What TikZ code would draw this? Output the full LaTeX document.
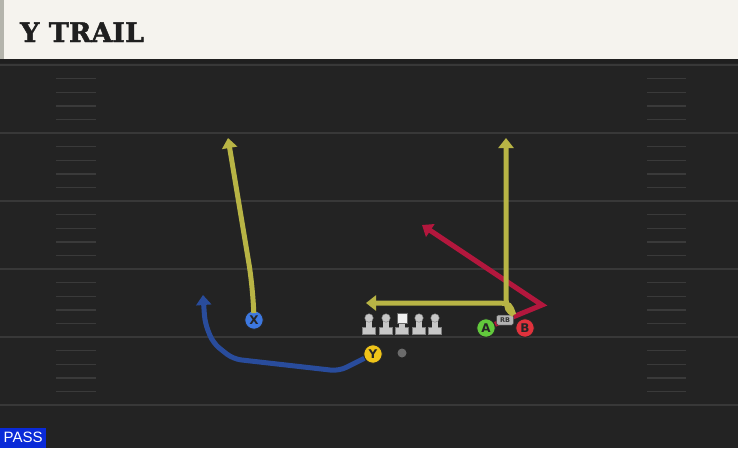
\documentclass[tikz,border=0pt]{standalone}
\usepackage{fontspec}
\setmainfont{DejaVu Serif}
\newfontfamily\titlefont[BoldFeatures={FakeBold=1.6}]{DejaVu Serif}
\newfontfamily\playerfont{DejaVu Sans}
\newfontfamily\tagfont{Liberation Sans}
\usetikzlibrary{arrows.meta}

\definecolor{headerbg}{HTML}{F5F3EE}
\definecolor{headeredge}{HTML}{B4B4AC}
\definecolor{fieldbg}{HTML}{232323}
\definecolor{fieldline}{HTML}{383838}
\definecolor{hashline}{HTML}{3A3A3A}
\definecolor{routeyellow}{HTML}{B8B445}
\definecolor{routered}{HTML}{B3173D}
\definecolor{routeblue}{HTML}{294C9C}
\definecolor{xblue}{HTML}{3D78E0}
\definecolor{yyellow}{HTML}{F0C419}
\definecolor{agreen}{HTML}{62C93C}
\definecolor{bred}{HTML}{E0323C}
\definecolor{passblue}{HTML}{0A2AD8}

\begin{document}
\begin{tikzpicture}[x=1pt, y=-1pt]

% Styles
\tikzstyle{player} = [draw=black!85, line width=0.9pt, circle, inner sep=0pt, minimum size=18.5pt, font=\playerfont\bfseries\fontsize{12}{12}\selectfont, text=black!85]
\tikzstyle{route}  = [line width=5pt, -{Triangle[length=10pt,width=15pt]}]
\tikzstyle{lbase}  = [fill=black!22, draw=black!50, line width=0.4pt, inner sep=0pt, minimum width=13pt, minimum height=7pt]
\tikzstyle{lneck}  = [fill=black!22, inner sep=0pt, minimum width=6pt, minimum height=9pt]
\tikzstyle{lhead}  = [fill=black!22, draw=black!50, line width=0.4pt, circle, inner sep=0pt, minimum size=8.5pt]
\tikzstyle{chead}  = [fill=white!94!black, draw=black!60, line width=0.5pt, inner sep=0pt, minimum size=10pt]

\useasboundingbox (0,0) rectangle (738,448);

% Field
\fill[fieldbg] (0,59) rectangle (738,448);
\fill[black!88] (0,59) rectangle (738,63);
\foreach \yl in {65,133,201,269,337,405}
  \draw[fieldline, line width=2pt] (0,\yl) -- (738,\yl);
\foreach \yl in {65,133,201,269,337}
  \foreach \k in {1,...,4} {
    \draw[hashline, line width=1.4pt] (56,\yl+13.6*\k) -- (96,\yl+13.6*\k);
    \draw[hashline, line width=1.4pt] (647,\yl+13.6*\k) -- (686,\yl+13.6*\k);
  }

% Header
\fill[headerbg] (0,0) rectangle (738,59);
\fill[headeredge] (0,0) rectangle (4,59);
\node[anchor=base west, inner sep=0pt, font=\titlefont\bfseries\fontsize{27}{27}\selectfont, text=black!88] (title) at (20,42) {Y TRAIL};

% Nodes
\node[player, fill=xblue] (x) at (254,320) {X};
\node[player, fill=yyellow] (y) at (373,354) {Y};
\node[player, fill=agreen] (a) at (486,328) {A};
\node[circle, fill=black!58, inner sep=0pt, minimum size=9pt] (ball) at (402,353) {};

% Line
\foreach \name/\px in {lt/369,lg/386,rg/419,rt/435} {
  \node[lbase] (\name) at (\px,330.5) {};
  \node[lneck] (\name-n) at (\px,323) {};
  \node[lhead] (\name-h) at (\px,318) {};
}
\node[lbase] (c) at (402,330.5) {};
\node[lneck] (c-n) at (402,324) {};
\node[chead] (c-h) at (402,318) {};

% Route ends
\coordinate (xend) at (228,138);
\coordinate (yend) at (203,295);
\coordinate (vend) at (506,138);
\coordinate (hend) at (366,303);
\coordinate (redend) at (422,225);

% Routes
\draw[route, routeyellow, rounded corners=25pt] (x) -- (253,288) -- (xend);
\draw[route, routeblue, rounded corners=8pt] (y) -- (339,371) -- (233,359) -- (213,343) -- (205,323) -- (yend);
\draw[route, routered] (a) -- (542,305) -- (redend);
\node[draw=black!75, fill=black!30, rounded corners=1.5pt, line width=0.5pt, inner sep=0pt, minimum width=17pt, minimum height=10pt, font=\playerfont\bfseries\fontsize{6.5}{6.5}\selectfont, text=black!80] (rb) at (505,320) {RB};
\draw[route, routeyellow] (rb.north east) .. controls (507,310) .. (506,298) -- (vend);
\draw[route, routeyellow] (rb.north east) .. controls (510,304) .. (500,303) -- (hend);
\node[player, fill=bred] (b) at (525,328) {B};

% Play type
\node[fill=passblue, text=white, anchor=south west, inner sep=0pt, minimum width=46pt, minimum height=20pt, font=\tagfont\fontsize{15}{15}\selectfont] (pass) at (0,448) {PASS};

\end{tikzpicture}
\end{document}
